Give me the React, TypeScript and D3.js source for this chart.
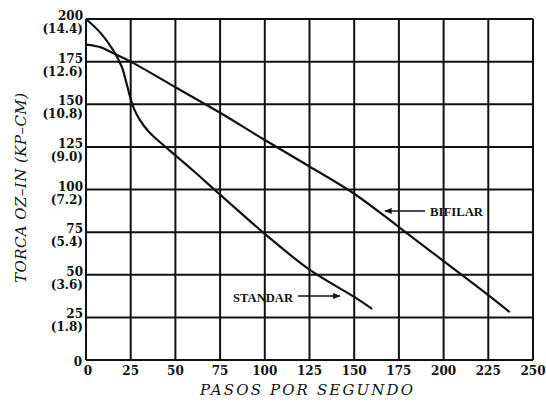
import React from "react";
import * as d3 from "d3";

// pasos por segundo vs torca oz-in
const standarX = [0, 8, 15, 20, 22, 25, 27, 30, 35, 40, 50, 60, 75, 100, 125, 150, 160];
const standarY = [200, 192, 182, 172, 165, 153, 147, 141, 134, 129, 120, 111, 97, 74, 53, 37, 30];

const bifilarX = [0, 8, 15, 25, 50, 75, 100, 125, 150, 175, 200, 225, 237];
const bifilarY = [185, 183.5, 180, 175, 160, 145, 129, 113.5, 97.5, 78, 58, 38, 28];

const xTicks = [0, 25, 50, 75, 100, 125, 150, 175, 200, 225, 250];
const yTicks = [0, 25, 50, 75, 100, 125, 150, 175, 200];
const kpLabels = ["", "(1.8)", "(3.6)", "(5.4)", "(7.2)", "(9.0)", "(10.8)", "(12.6)", "(14.4)"];

const W = 546;
const H = 403;
const margin = { top: 19, right: 13, bottom: 43, left: 86 };

const tickFont = "'DejaVu Serif', serif";
const labelFont = "'Liberation Serif', serif";

export default function App() {
  const x = d3.scaleLinear().domain([0, 250]).range([margin.left, W - margin.right]);
  const y = d3.scaleLinear().domain([0, 200]).range([H - margin.bottom, margin.top]);

  const line = d3
    .line<[number, number]>()
    .x((d) => x(d[0]))
    .y((d) => y(d[1]))
    .curve(d3.curveCatmullRom.alpha(0.5));

  const standar = standarX.map((v, i) => [v, standarY[i]] as [number, number]);
  const bifilar = bifilarX.map((v, i) => [v, bifilarY[i]] as [number, number]);

  return (
    <svg
      width={W}
      height={H}
      style={{ position: "absolute", left: 0, top: 0, background: "#fff" }}
    >
      <defs>
        <marker
          id="head"
          viewBox="0 0 10 10"
          refX="9"
          refY="5"
          markerWidth="5"
          markerHeight="5"
          orient="auto-start-reverse"
        >
          <path d="M0,1 L10,5 L0,9 z" fill="#111" />
        </marker>
      </defs>

      {/* grid */}
      <g stroke="#111" strokeWidth={2}>
        {xTicks.map((t) => (
          <line key={"vx" + t} x1={x(t)} x2={x(t)} y1={y(0)} y2={y(200)} />
        ))}
        {yTicks.map((t) => (
          <line key={"hy" + t} x1={x(0)} x2={x(250)} y1={y(t)} y2={y(t)} />
        ))}
      </g>

      {/* y tick labels */}
      <g fontFamily={tickFont} fontWeight="bold" fontSize={12} fill="#111" textAnchor="end">
        {yTicks.map((t, i) =>
          t === 0 ? (
            <text key={"yl" + t} x={x(0) - 4} y={y(0) + 6}>
              0
            </text>
          ) : (
            <g key={"yl" + t}>
              <text x={x(0) - 3} y={y(t) + 1}>
                {t}
              </text>
              <text x={x(0) - 3} y={y(t) + 14}>
                {kpLabels[i]}
              </text>
            </g>
          )
        )}
      </g>

      {/* x tick labels */}
      <g fontFamily={tickFont} fontWeight="bold" fontSize={12} fill="#111" textAnchor="middle">
        {xTicks.map((t) => (
          <text key={"xl" + t} x={x(t) + (t === 0 ? 2 : 0)} y={y(0) + 15}>
            {t}
          </text>
        ))}
      </g>

      {/* curves */}
      <path d={line(standar) || ""} fill="none" stroke="#111" strokeWidth={2.2} />
      <path d={line(bifilar) || ""} fill="none" stroke="#111" strokeWidth={2.2} />

      {/* annotations */}
      <g fontFamily={labelFont} fontWeight="bold" fontSize={13} fill="#111">
        <text x={x(192.4)} y={y(84.5)} textLength={53} lengthAdjust="spacingAndGlyphs">
          BIFILAR
        </text>
        <text
          x={x(115.8)}
          y={y(34)}
          textAnchor="end"
          textLength={60}
          lengthAdjust="spacingAndGlyphs"
        >
          STANDAR
        </text>
      </g>
      <line
        x1={x(189.6)}
        x2={x(167.2)}
        y1={y(87.4)}
        y2={y(87.4)}
        stroke="#111"
        strokeWidth={1.5}
        markerEnd="url(#head)"
      />
      <line
        x1={x(118.6)}
        x2={x(142)}
        y1={y(37.5)}
        y2={y(37.5)}
        stroke="#111"
        strokeWidth={1.5}
        markerEnd="url(#head)"
      />

      {/* axis titles */}
      <text
        x={200}
        y={395}
        fontFamily={tickFont}
        fontStyle="italic"
        fontSize={15}
        fill="#111"
        textLength={213}
        lengthAdjust="spacing"
      >
        PASOS POR SEGUNDO
      </text>
      <text
        transform="translate(26,283) rotate(-90)"
        fontFamily={tickFont}
        fontStyle="italic"
        fontSize={15}
        fill="#111"
        textLength={190}
        lengthAdjust="spacing"
      >
        TORCA OZ–IN (KP–CM)
      </text>
    </svg>
  );
}
